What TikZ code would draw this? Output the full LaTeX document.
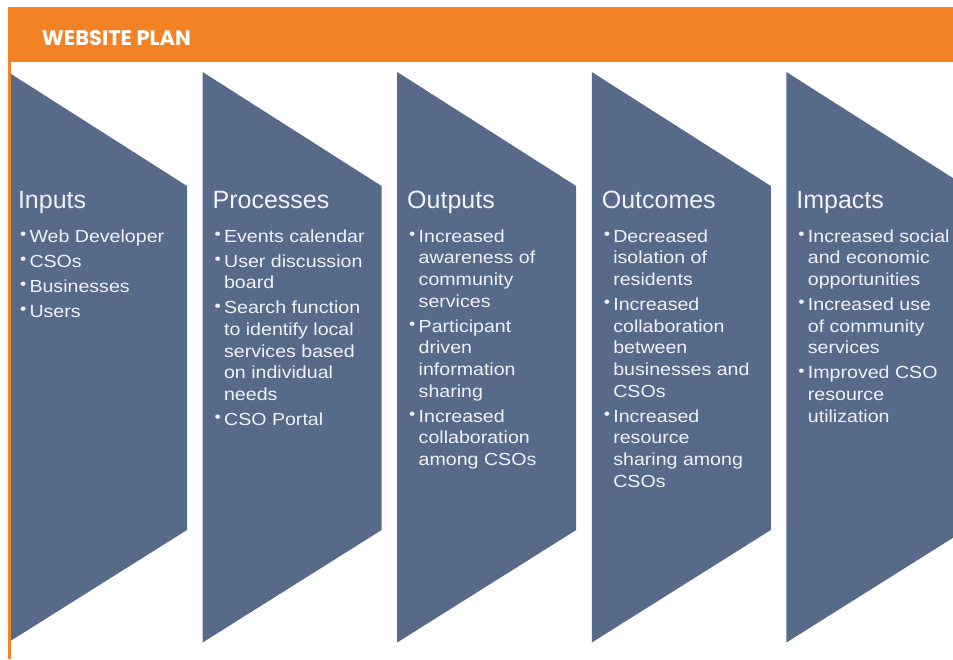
\documentclass[tikz,border=0pt]{standalone}
\usepackage{fontspec}
\setmainfont{Liberation Sans}
\newfontfamily\bodyfont[FakeStretch=1.12]{Liberation Sans}
\newfontfamily\headfont{Poppins}

\definecolor{bandorange}{RGB}{242,130,36}
\definecolor{slate}{RGB}{88,106,138}
\definecolor{paleText}{RGB}{240,242,246}

% one bulleted line and one continuation line of a column list
\newcommand{\bulline}[1]{\hbox{\makebox[9.5pt][l]{\raisebox{2.6pt}{\fontsize{16pt}{16pt}\selectfont •}}#1}}
\newcommand{\contline}[1]{\hbox{\hspace*{9.5pt}#1}}
\newcommand{\itemgap}{\vskip3.3pt}
\newcommand{\colbody}[1]{\vtop{\bodyfont\fontsize{17.5pt}{21.7pt}\selectfont#1}}

\begin{document}
\begin{tikzpicture}[x=1pt,y=-1pt,
  coltitle/.style={anchor=base west,inner sep=0pt,outer sep=0pt,text=paleText,font=\fontsize{25pt}{30pt}\selectfont},
  colitems/.style={anchor=base west,inner sep=0pt,outer sep=0pt,text=paleText},
  chev/.style={fill=slate}]
\useasboundingbox (0,0) rectangle (953,659);
\clip (0,0) rectangle (953,659);

% the five arrow panels
\foreach \L in {8,202.6,397.2,591.8,786.4}
  \fill[chev] (\L,72) -- (\L+179,186) -- (\L+179,530) -- (\L,642.5) -- cycle;

% header band and left rule
\fill[bandorange] (8,7) rectangle (953,62);
\fill[bandorange] (8,62) rectangle (10.7,659);
\node[anchor=base west,inner sep=0pt,text=white,font=\headfont\bfseries\fontsize{21pt}{24pt}\selectfont] (hdr) at (41.7,45) {WEBSITE PLAN};

% Inputs
\node[coltitle] (t1) at (18,208) {Inputs};
\node[colitems] (b1) at (20,242) {\colbody{%
  \bulline{Web Developer}\itemgap
  \bulline{CSOs}\itemgap
  \bulline{Businesses}\itemgap
  \bulline{Users}}};

% Processes
\node[coltitle] (t2) at (212.6,208) {Processes};
\node[colitems] (b2) at (214.6,242) {\colbody{%
  \bulline{Events calendar}\itemgap
  \bulline{User discussion}\contline{board}\itemgap
  \bulline{Search function}\contline{to identify local}\contline{services based}\contline{on individual}\contline{needs}\itemgap
  \bulline{CSO Portal}}};

% Outputs
\node[coltitle] (t3) at (407.2,208) {Outputs};
\node[colitems] (b3) at (409.2,242) {\colbody{%
  \bulline{Increased}\contline{awareness of}\contline{community}\contline{services}\itemgap
  \bulline{Participant}\contline{driven}\contline{information}\contline{sharing}\itemgap
  \bulline{Increased}\contline{collaboration}\contline{among CSOs}}};

% Outcomes
\node[coltitle] (t4) at (601.8,208) {Outcomes};
\node[colitems] (b4) at (603.8,242) {\colbody{%
  \bulline{Decreased}\contline{isolation of}\contline{residents}\itemgap
  \bulline{Increased}\contline{collaboration}\contline{between}\contline{businesses and}\contline{CSOs}\itemgap
  \bulline{Increased}\contline{resource}\contline{sharing among}\contline{CSOs}}};

% Impacts
\node[coltitle] (t5) at (796.4,208) {Impacts};
\node[colitems] (b5) at (798.4,242) {\colbody{%
  \bulline{Increased social}\contline{and economic}\contline{opportunities}\itemgap
  \bulline{Increased use}\contline{of community}\contline{services}\itemgap
  \bulline{Improved CSO}\contline{resource}\contline{utilization}}};
\end{tikzpicture}
\end{document}
